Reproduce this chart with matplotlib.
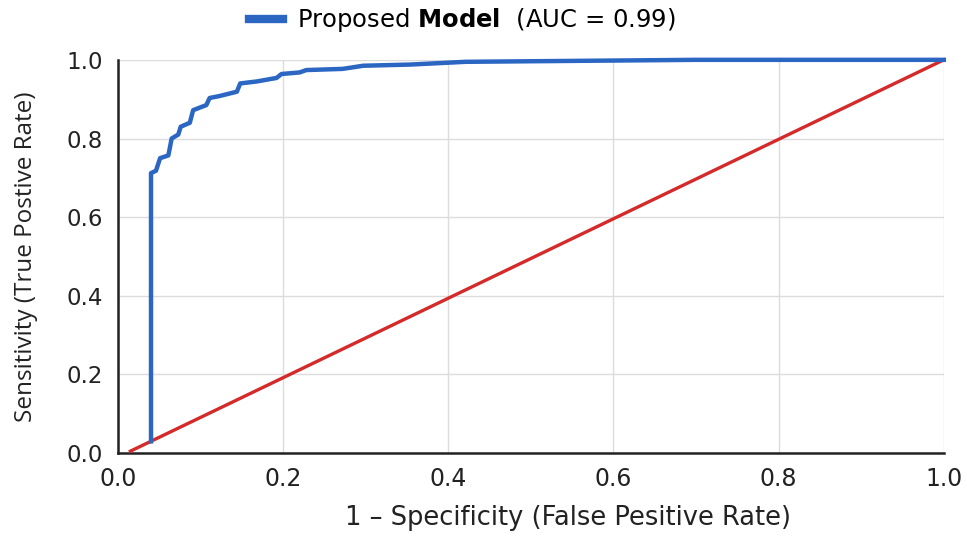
import numpy as np
import matplotlib
matplotlib.use("Agg")
import matplotlib.pyplot as plt

plt.rcParams['font.family'] = ['DejaVu Sans']
plt.rcParams['mathtext.fontset'] = 'dejavusans'

# ROC curve
fpr = [0.040, 0.040, 0.046, 0.051, 0.061, 0.065, 0.073, 0.076, 0.087, 0.091,
       0.107, 0.111, 0.123, 0.144, 0.148, 0.168, 0.192, 0.198, 0.220, 0.228,
       0.272, 0.297, 0.354, 0.421, 0.700, 1.000]
tpr = [0.030, 0.712, 0.718, 0.750, 0.757, 0.800, 0.810, 0.830, 0.840, 0.872,
       0.885, 0.903, 0.908, 0.919, 0.940, 0.945, 0.954, 0.964, 0.968, 0.974,
       0.977, 0.985, 0.988, 0.995, 1.000, 1.000]
chance_x = [0.015, 1.0]
chance_y = [0.005, 1.0]
ticks = [0.0, 0.2, 0.4, 0.6, 0.8, 1.0]
auc_label = "Proposed $\\bf{Model}$  (AUC = 0.99)"

fig = plt.figure(figsize=(9.67, 5.44), dpi=100)
ax = fig.add_axes([0.122, 0.167, 0.854, 0.723])

ax.plot(chance_x, chance_y, color='#d42a2a', lw=2.4, zorder=3, clip_on=False)
ax.plot(fpr, tpr, color='#2a66c2', lw=3.2, zorder=4, clip_on=False,
        solid_joinstyle='round', label=auc_label)

ax.set_xlim(0, 1)
ax.set_ylim(0, 1)
ax.set_xticks(ticks)
ax.set_yticks(ticks)
ax.set_xticklabels([f"{t:.1f}" for t in ticks])
ax.set_yticklabels([f"{t:.1f}" for t in ticks])
ax.tick_params(length=0, colors='#222222')
ax.tick_params(axis='x', pad=10, labelsize=17)
ax.tick_params(axis='y', pad=11, labelsize=16.5)
ax.grid(True, color='#dcdcdc', lw=1.0)
ax.set_axisbelow(True)
for s in ['top', 'right']:
    ax.spines[s].set_visible(False)
for s in ['left', 'bottom']:
    ax.spines[s].set_color('#222222')
    ax.spines[s].set_linewidth(1.8)

ax.set_xlabel("1 – Specificity (False Pesitive Rate)", fontsize=18.5,
              color='#222222', labelpad=10, x=0.545)
ax.set_ylabel("Sensitivity (True Postive Rate)", fontsize=17.5,
              family=['Open Sans', 'DejaVu Sans'],
              color='#222222', labelpad=20)

fig.legend(loc='center', bbox_to_anchor=(0.478, 0.963), frameon=False,
           fontsize=17.5, handlelength=1.4, handletextpad=0.6)
for h in fig.legends[0].get_lines():
    h.set_linewidth(6)

fig.savefig("out.png", dpi=100, facecolor='white')
